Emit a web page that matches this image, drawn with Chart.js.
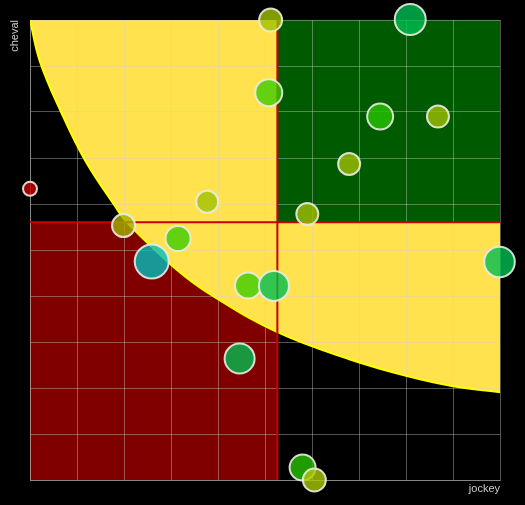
<!DOCTYPE html>
<html>
<head>
<meta charset="utf-8">
<script src="https://cdn.jsdelivr.net/npm/chart.js@4"></script>
<style>
  html, body { margin: 0; padding: 0; background: #000; }
  canvas { display: block; }
</style>
</head>
<body>
<canvas id="chart" width="525" height="505"></canvas>
<script>
// Bubble values (axes run 0..10)
const jockey = [0, 1.99, 2.59, 3.15, 3.77, 4.64, 5.19, 4.46, 5.08, 5.12, 5.90, 6.79, 7.45, 8.68, 8.09, 9.99, 5.80, 6.05];
const cheval = [6.33, 5.53, 4.75, 5.25, 6.05, 4.23, 4.22, 2.64, 8.42, 10.0, 5.78, 6.87, 7.90, 7.90, 10.01, 4.74, 0.27, 0.0];
const sizes  = [7, 11.5, 17, 12.5, 11, 13, 15, 15, 13.5, 11.5, 11, 11, 13, 11, 15.5, 15.3, 13, 11.5];

// Boundary of the yellow zone (jockey, cheval)
const curveX = [0, 0.21, 0.66, 1.17, 1.81, 2.06, 3.09, 3.89, 5.25, 6.81, 8.02, 9.0, 10];
const curveY = [10, 9.1, 8.0, 6.95, 5.95, 5.6, 4.6, 4.0, 3.22, 2.62, 2.26, 2.04, 1.91];

const axisMin = 0;
const axisMax = 10;

// Point colours
const bubbleColors = [
  'rgba(200,0,0,0.8)', 'rgba(165,175,0,0.8)', 'rgba(0,190,190,0.8)', 'rgba(60,205,0,0.8)',
  'rgba(160,195,0,0.8)', 'rgba(60,205,0,0.8)', 'rgba(0,190,80,0.8)', 'rgba(0,190,80,0.8)',
  'rgba(60,205,0,0.8)', 'rgba(160,195,0,0.8)', 'rgba(160,190,0,0.8)', 'rgba(160,190,0,0.8)',
  'rgba(40,195,0,0.8)', 'rgba(160,190,0,0.8)', 'rgba(0,190,80,0.8)', 'rgba(0,190,80,0.8)',
  'rgba(40,195,0,0.8)', 'rgba(170,200,0,0.8)'
];

// Red cross sits on the averages
const mean = arr => arr.reduce((a, b) => a + b, 0) / arr.length;
const meanX = mean(jockey);
const meanY = mean(cheval);

const bubbles = jockey.map((x, i) => ({ x: x, y: cheval[i], r: sizes[i] }));
const curve = curveX.map((x, i) => ({ x: x, y: curveY[i] }));

const flat = { pointRadius: 0, pointHoverRadius: 0 };

new Chart(document.getElementById('chart'), {
  type: 'bubble',
  data: {
    datasets: [
      {
        data: bubbles,
        backgroundColor: bubbleColors,
        borderColor: 'rgba(235,235,230,0.9)',
        borderWidth: 2,
        hoverBorderWidth: 2,
        clip: false
      },
      {
        type: 'line', ...flat,
        data: [{ x: axisMin, y: meanY }, { x: axisMax, y: meanY }],
        borderColor: '#c80000', borderWidth: 2, fill: false
      },
      {
        type: 'line', ...flat,
        data: [{ x: meanX, y: axisMin }, { x: meanX, y: axisMax }],
        borderColor: '#c80000', borderWidth: 2, fill: false
      },
      {
        // top-right quadrant
        type: 'line', ...flat,
        data: [{ x: meanX, y: axisMax }, { x: axisMax, y: axisMax }],
        borderWidth: 0, backgroundColor: '#005a00', fill: { value: meanY }
      },
      {
        // yellow zone above the curve
        type: 'line', ...flat,
        data: curve,
        tension: 0.4,
        borderColor: '#ffff00', borderWidth: 2,
        backgroundColor: '#ffe24e', fill: 'end'
      },
      {
        // bottom-left quadrant
        type: 'line', ...flat,
        data: [{ x: axisMin, y: meanY }, { x: meanX, y: meanY }],
        borderWidth: 0, backgroundColor: '#800000', fill: 'start'
      }
    ]
  },
  options: {
    responsive: false,
    animation: false,
    events: [],
    layout: { padding: { top: 20, right: 25, left: 0, bottom: 0 } },
    plugins: {
      legend: { display: false },
      tooltip: { enabled: false },
      filler: { drawTime: 'beforeDraw' }
    },
    scales: {
      x: {
        type: 'linear',
        min: axisMin,
        max: axisMax,
        ticks: { display: false, stepSize: 1 },
        grid: { color: 'rgba(210,210,210,0.4)', drawTicks: false },
        border: { color: 'rgba(210,210,210,0.4)' },
        title: {
          display: true,
          text: 'jockey',
          align: 'end',
          color: '#cccccc',
          font: { family: '"Liberation Sans", Arial, sans-serif', size: 11 },
          padding: { top: 2.4, bottom: 9.4 }
        }
      },
      y: {
        type: 'linear',
        min: axisMin,
        max: axisMax,
        ticks: { display: false, stepSize: 1 },
        grid: { color: 'rgba(210,210,210,0.4)', drawTicks: false },
        border: { color: 'rgba(210,210,210,0.4)' },
        title: {
          display: true,
          text: 'cheval',
          align: 'end',
          color: '#cccccc',
          font: { family: '"Liberation Sans", Arial, sans-serif', size: 11 },
          padding: { top: 8.5, bottom: 8.3 }
        }
      }
    }
  }
});
</script>
</body>
</html>
